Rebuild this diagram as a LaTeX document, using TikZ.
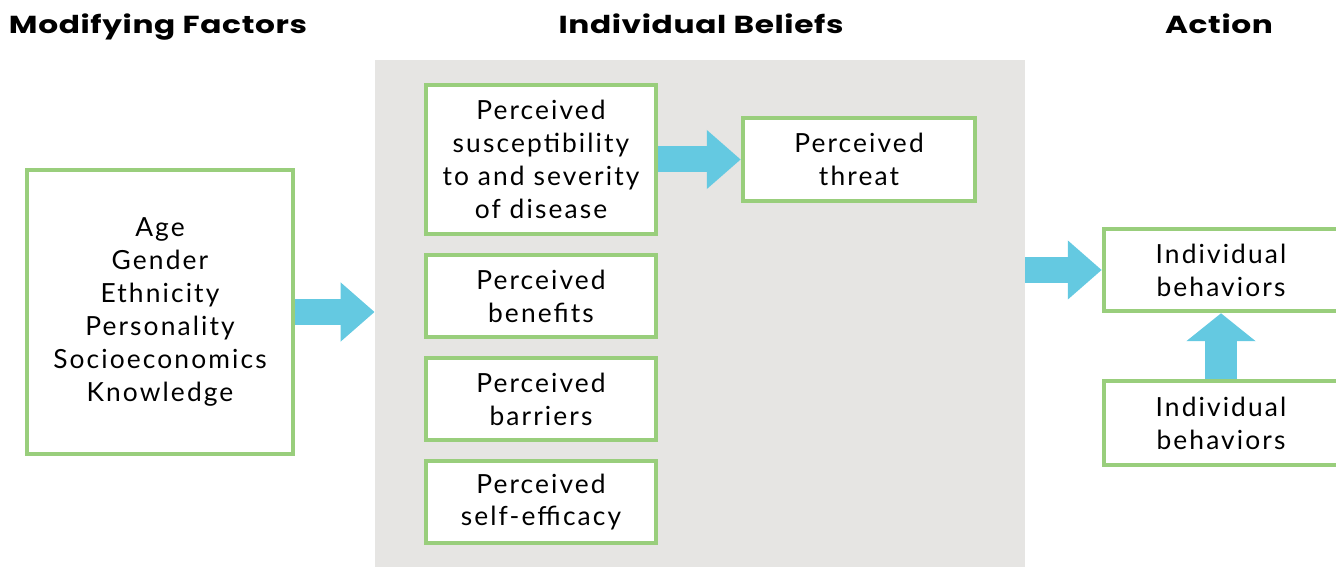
\documentclass[tikz,border=0pt]{standalone}
\usepackage{fontspec}
\setmainfont{Lato}[LetterSpace=8]
\newfontfamily\headfont{Poppins}[LetterSpace=2]
\usetikzlibrary{arrows.meta}

\definecolor{boxgreen}{RGB}{153,206,124}
\definecolor{arrowblue}{RGB}{100,201,225}
\definecolor{beliefgray}{RGB}{230,229,227}

\newcommand{\px}{0.02cm}
\newcommand{\wide}[1]{\scalebox{1.27}[1]{#1}}

\tikzset{
    heading/.style={font=\headfont\fontsize{14}{16}\selectfont\bfseries, anchor=base},
    factorbox/.style={draw=boxgreen, line width=4.5*\px, fill=white, align=center,
        inner sep=0pt, font=\fontsize{15}{18.7}\selectfont},
    bigarrow/.style={arrowblue, line width=26*\px,
        -{Triangle[length=34*\px, width=57*\px]}}
}

\begin{document}
\begin{tikzpicture}[x=\px, y=-\px]

\useasboundingbox (0,0) rectangle (1336,567);
\clip (0,0) rectangle (1336,567);

% column headings
\node[heading] (hFactors) at (158,34) {\wide{Modifying Factors}};
\node[heading] (hBeliefs) at (701,34) {\wide{Individual Beliefs}};
\node[heading] (hAction) at (1219,34) {\wide{Action}};

% grey band behind the beliefs
\node[fill=beliefgray, minimum width=650*\px, minimum height=512*\px,
    inner sep=0pt] (beliefs) at (700,316) {};

\node[factorbox, minimum width=266*\px, minimum height=284*\px] (factors)
    at (160,312) {Age\\Gender\\Ethnicity\\Personality\\Socioeconomics\\Knowledge};

\node[factorbox, minimum width=230*\px, minimum height=149*\px] (suscept)
    at (541,159.5) {Perceived\\susceptibility\\to and severity\\of disease};

\foreach \bname/\ypos/\bsecond in
{benefits/296/benefits,
    barriers/399/barriers,
    efficacy/502/self-efficacy
}
{
    \node[factorbox, minimum width=230*\px, minimum height=82*\px] (\bname)
        at (541,\ypos) {Perceived\\\bsecond};
}

\node[factorbox, minimum width=232*\px, minimum height=83*\px] (threat)
    at (859,159.5) {Perceived\\threat};

\node[factorbox, minimum width=234*\px, minimum height=82*\px] (act)
    at (1221,270) {Individual\\behaviors};
\node[factorbox, minimum width=234*\px, minimum height=84*\px] (cue)
    at (1221,423) {Individual\\behaviors};

% block arrows
\draw[bigarrow] (factors.east) -- (beliefs.west |- factors.east);
\draw[bigarrow] (suscept.east) -- (threat.west);
\draw[bigarrow] (beliefs.east |- act.west) -- (act.west);
\draw[bigarrow, line width=32*\px, -{Triangle[length=28*\px, width=68*\px]}]
    (cue.north) -- (act.south);

\end{tikzpicture}
\end{document}
